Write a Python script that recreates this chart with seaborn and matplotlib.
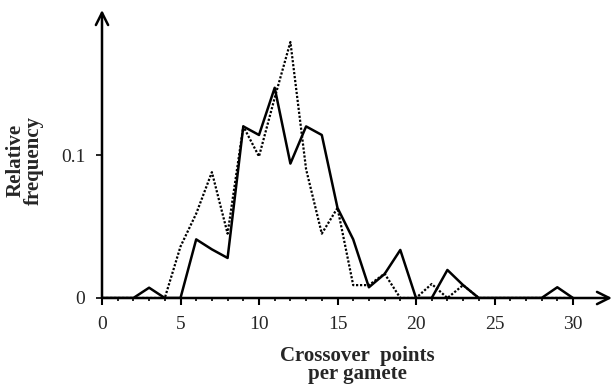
import matplotlib
matplotlib.use("Agg")
import matplotlib.pyplot as plt
import seaborn as sns
import pandas as pd
import numpy as np

x_points = list(range(0, 31))
solid_freq = [0, 0, 0, 0.0072, 0, 0, 0.041, 0.034, 0.028, 0.12, 0.114, 0.147, 0.094, 0.12,
              0.114, 0.063, 0.041, 0.0075, 0.0168, 0.0336, 0, 0, 0.0196, 0.009, 0, 0, 0, 0,
              0, 0.0075, 0]
dotted_freq = [0, 0, 0, 0, 0, 0.036, 0.059, 0.088, 0.045, 0.12, 0.099, 0.14, 0.179, 0.09,
               0.045, 0.063, 0.009, 0.009, 0.017, 0, 0, 0.0098, 0, 0.009, 0, 0, 0, 0, 0, 0, 0]
x_ticks = [0, 5, 10, 15, 20, 25, 30]
y_ticks = [0, 0.1]
y_tick_labels = ["0", "0.1"]

sns.set_style("white")
plt.rcParams['font.family'] = ['Liberation Serif', 'DejaVu Serif']

fig = plt.figure(figsize=(6.14, 3.84), dpi=100)
ax = fig.add_axes([102 / 614, 1 - 298 / 384, 510 / 614, 288 / 384])

df = pd.DataFrame({"x": x_points, "solid": solid_freq, "dotted": dotted_freq})
sns.lineplot(data=df, x="x", y="dotted", ax=ax, color="black", lw=1.6,
             linestyle=(0, (1, 0.8)), zorder=3)
sns.lineplot(data=df, x="x", y="solid", ax=ax, color="black", lw=1.8, zorder=4)

ax.set_xlim(0, 510 / 15.7)
ax.set_ylim(0, 288 / 1430)

for s in ax.spines.values():
    s.set_visible(False)

ax.annotate('', xy=(1.0, 0), xytext=(0, 0), xycoords='axes fraction',
            arrowprops=dict(arrowstyle='->', lw=1.8, color='black', mutation_scale=22,
                            shrinkA=0, shrinkB=0), zorder=5)
ax.annotate('', xy=(0, 1.0), xytext=(0, 0), xycoords='axes fraction',
            arrowprops=dict(arrowstyle='->', lw=1.8, color='black', mutation_scale=22,
                            shrinkA=0, shrinkB=0), zorder=5)

ax.set_xticks(x_ticks)
ax.set_xticklabels([str(t) for t in x_ticks])
ax.set_xticks(x_points, minor=True)
ax.set_yticks(y_ticks)
ax.set_yticklabels(y_tick_labels)
ax.tick_params(axis='x', which='major', direction='out', length=5, width=1.5,
               color='black', labelsize=14, pad=8, bottom=True)
ax.tick_params(axis='x', which='minor', direction='out', length=2.5, width=1.2,
               color='black', bottom=True)
ax.tick_params(axis='y', which='major', direction='out', length=4, width=1.2,
               color='black', labelsize=14, pad=8, left=True)
ax.grid(False)

ax.set_xlabel("Crossover  points\nper gamete", fontsize=15, fontweight='bold',
              linespacing=0.85)
ax.xaxis.set_label_coords(0.5, -0.167)
ax.set_ylabel("Relative\nfrequency", fontsize=15, fontweight='bold',
              linespacing=0.85)
ax.yaxis.set_label_coords(-0.114, 0.479)

fig.savefig("out.png", dpi=100)
